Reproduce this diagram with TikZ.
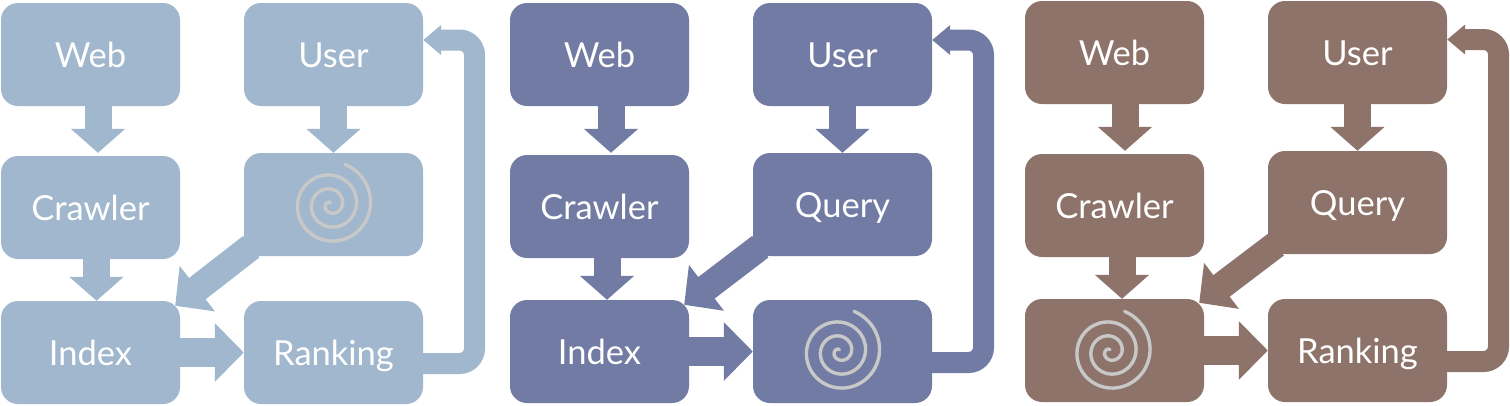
\documentclass[tikz,border=0pt]{standalone}
\usepackage{fontspec}
\setmainfont{Lato}
\usetikzlibrary{arrows.meta,calc}
\definecolor{paneA}{HTML}{A0B7CD}
\definecolor{paneB}{HTML}{717BA3}
\definecolor{paneC}{HTML}{8D7369}
\definecolor{swirl}{HTML}{C8C8C8}
\tikzset{
  x=1pt,y=-1pt,
  block/.style={fill=#1,rounded corners=17pt,minimum width=179pt,minimum height=103pt,inner sep=0pt,
    text=white,font=\fontsize{34.5}{34.5}\selectfont,text height=26pt,text depth=0pt,align=center},
  vfat/.style={draw=#1,line width=27pt,-{Triangle[length=24pt,width=53pt,fill=#1]}},
  hfat/.style={draw=#1,line width=29pt,-{Triangle[length=29pt,width=57pt,fill=#1]}},
  dfat/.style={draw=#1,line width=27pt,-{Triangle[length=28pt,width=56pt,fill=#1]}},
  loopback/.style={draw=#1,line width=21pt,rounded corners=15pt,-{Triangle[length=18pt,width=29pt,fill=#1]}},
  swirlline/.style={draw=swirl,line width=3.4pt,line cap=round}
}
\newcommand{\swirlat}[2]{%
  \draw[swirlline,shift={($(#1.center)+(#2)$)}] plot[smooth,samples=130,domain=-70:985]
    ({(40-14*\x/360)*cos(\x)},{(40-14*\x/360)*sin(\x)});}
\begin{document}
\begin{tikzpicture}
\useasboundingbox (0,0) rectangle (1510,405);
% panel 1
\node[block=paneA] (w1) at (90.5,54.5) {Web};
\node[block=paneA] (u1) at (333.5,54.5) {User};
\node[block=paneA] (c1) at (90.5,207.5) {Crawler};
\node[block=paneA] (s1) at (333.5,204.5) {};
\node[block=paneA] (i1) at (90.5,352.5) {Index};
\node[block=paneA] (r1) at (333.5,352.5) {Ranking};
\coordinate (t1) at (474.5,40);
\draw[vfat=paneA] ([xshift=7.5pt]w1.south) -- ([xshift=7.5pt,yshift=3pt]w1.south |- c1.north);
\draw[vfat=paneA] (u1.south) -- ([yshift=0pt]s1.north);
\draw[vfat=paneA] ([xshift=6pt]c1.south) -- ([xshift=6pt]c1.south |- i1.north);
\draw[dfat=paneA] ($(s1.south west)+(7.5,-9.5)$) -- ($(i1.north east)+(-5,5)$);
\draw[hfat=paneA] (i1.east) -- (r1.west);
\draw[loopback=paneA] ([yshift=-11pt]r1.east) -| (t1) -- (t1 -| u1.east);
\swirlat{s1}{-3,0}
% panel 2
\node[block=paneB] (w2) at (599.5,54.5) {Web};
\node[block=paneB] (u2) at (842.5,54.5) {User};
\node[block=paneB] (c2) at (599.5,206.5) {Crawler};
\node[block=paneB] (q2) at (842.5,204.5) {Query};
\node[block=paneB] (i2) at (599.5,351.5) {Index};
\node[block=paneB] (s2) at (842.5,351.5) {};
\coordinate (t2) at (983.5,40);
\draw[vfat=paneB] ([xshift=11.5pt]w2.south) -- ([xshift=11.5pt,yshift=2pt]w2.south |- c2.north);
\draw[vfat=paneB] (u2.south) -- (q2.north);
\draw[vfat=paneB] ([xshift=7.5pt]c2.south) -- ([xshift=7.5pt]c2.south |- i2.north);
\draw[dfat=paneB] ($(q2.south west)+(7.5,-9.5)$) -- ($(i2.north east)+(-5,5)$);
\draw[hfat=paneB] (i2.east) -- (s2.west);
\draw[loopback=paneB] ([yshift=-11pt]s2.east) -| (t2) -- (t2 -| u2.east);
\swirlat{s2}{-3,0}
% panel 3
\node[block=paneC] (w3) at (1114.5,52.5) {Web};
\node[block=paneC] (u3) at (1357.5,52.5) {User};
\node[block=paneC] (c3) at (1114.5,205.5) {Crawler};
\node[block=paneC] (q3) at (1357.5,202.5) {Query};
\node[block=paneC] (s3) at (1114.5,350.5) {};
\node[block=paneC] (r3) at (1357.5,350.5) {Ranking};
\coordinate (t3) at (1498.5,39.5);
\draw[vfat=paneC] ([xshift=10.5pt]w3.south) -- ([xshift=10.5pt,yshift=3pt]w3.south |- c3.north);
\draw[vfat=paneC] (u3.south) -- (q3.north);
\draw[vfat=paneC] ([xshift=7.5pt]c3.south) -- ([xshift=7.5pt]c3.south |- s3.north);
\draw[dfat=paneC] ($(q3.south west)+(8,-9.5)$) -- ($(s3.north east)+(-5,4)$);
\draw[hfat=paneC] (s3.east) -- (r3.west);
\draw[loopback=paneC] ([yshift=-11pt]r3.east) -| (t3) -- (t3 -| u3.east);
\swirlat{s3}{-4.5,1}
\end{tikzpicture}
\end{document}
